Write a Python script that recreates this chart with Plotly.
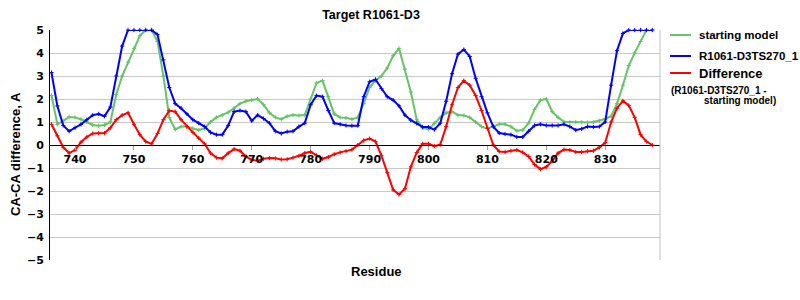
import plotly.graph_objects as go

residues = list(range(736, 839))

starting_model = [
    2.15, 0.9, 1.05, 1.22, 1.2, 1.12, 1.0, 0.87, 0.84, 0.87,
    1.0, 2.2, 3.0, 3.6, 4.2, 4.75, 5.0, 5.0, 4.5, 3.0,
    1.2, 0.68, 0.8, 0.8, 0.72, 0.65, 0.72,
    1.0, 1.2, 1.3, 1.42, 1.6, 1.8, 1.9, 1.95, 2.0, 1.75,
    1.4, 1.2, 1.12, 1.25, 1.3, 1.28, 1.3, 2.0, 2.7, 2.8,
    2.1, 1.35, 1.2, 1.18, 1.12, 1.2,
    1.8, 2.5, 2.8, 3.0, 3.35, 3.88, 4.2, 3.3, 2.3, 1.1,
    0.75, 0.68, 0.95, 1.2, 1.4, 1.45, 1.3, 1.28, 1.2, 1.0,
    0.8, 0.72, 0.8, 0.9, 0.9, 0.8,
    0.62, 0.65, 0.95, 1.55, 1.95, 2.0, 1.45, 1.2, 1.01, 1.0,
    1.0, 1.0, 0.98, 1.0, 1.05, 1.13, 1.25, 1.8, 2.6, 3.45,
    4.0, 4.5, 5.0, 5.0,
]

model_ts270 = [
    3.15, 1.7, 0.85, 0.6, 0.75, 0.9, 1.1, 1.3, 1.35, 1.25,
    1.65, 3.0, 4.3, 5.0, 5.0, 5.0, 5.0, 5.0, 4.8, 3.7,
    2.5, 1.8, 1.6, 1.35, 1.1, 0.95, 0.8,
    0.55, 0.45, 0.45, 0.85, 1.45, 1.5, 1.45, 1.05, 1.3, 1.15,
    0.95, 0.6, 0.5, 0.58, 0.6, 0.8, 0.95, 1.75, 2.15, 2.1,
    1.5, 0.95, 0.9, 0.85, 0.84, 0.84,
    2.1, 2.75, 2.85, 2.45, 2.1, 1.95, 1.7, 1.3, 1.08, 0.94,
    0.78, 0.78, 0.67, 0.95, 1.9, 3.1, 3.95, 4.15, 3.85, 2.9,
    2.1, 1.4, 0.8, 0.52, 0.48, 0.45,
    0.35, 0.35, 0.6, 0.85, 0.9, 0.85, 0.85, 0.85, 0.9, 0.8,
    0.65, 0.7, 0.8, 0.78, 0.8, 1.0, 2.6, 4.1, 4.85, 5.0,
    5.0, 5.0, 5.0, 5.0,
]

difference = [
    0.9, 0.4, -0.1, -0.35, -0.22, 0.12, 0.35, 0.5, 0.52, 0.52,
    0.75, 1.1, 1.3, 1.4, 0.9, 0.45, 0.15, 0.05, 0.5, 1.1,
    1.5, 1.45, 1.1, 0.8, 0.55, 0.3, 0.05,
    -0.35, -0.55, -0.58, -0.35, -0.18, -0.25, -0.5, -0.65, -0.68, -0.6,
    -0.57, -0.58, -0.63, -0.62, -0.55, -0.47, -0.35, -0.3, -0.45, -0.6,
    -0.52, -0.4, -0.32, -0.27, -0.2, 0.0,
    0.2, 0.28, 0.15, -0.45, -1.2, -1.95, -2.15, -1.9, -0.95, -0.33,
    0.05, 0.05, -0.05, 0.02, 0.8, 1.75, 2.5, 2.8, 2.6, 2.15,
    1.5, 0.72, 0.0, -0.28, -0.3, -0.25,
    -0.22, -0.32, -0.5, -0.85, -1.05, -0.95, -0.7, -0.35, -0.2, -0.22,
    -0.3, -0.3, -0.27, -0.25, -0.1, 0.1, 1.0, 1.6, 1.92, 1.72,
    1.2, 0.45, 0.15, 0.0,
]

x_ticks = [740, 750, 760, 770, 780, 790, 800, 810, 820, 830]
y_ticks = [-5, -4, -3, -2, -1, 0, 1, 2, 3, 4, 5]

series = [
    ("starting model", starting_model, "#66c466"),
    ("R1061-D3TS270_1", model_ts270, "#0000ff"),
    ("Difference", difference, "#ff0000"),
]

fig = go.Figure()
for name, vals, color in series:
    fig.add_trace(go.Scatter(
        x=residues, y=vals, name=name, mode="lines+markers",
        line=dict(color=color, width=2),
        marker=dict(symbol="cross-thin", size=3, line=dict(color=color, width=1), color=color),
        cliponaxis=False, showlegend=False,
    ))

tick_font = dict(family="DejaVu Sans", size=11, color="black", weight="bold")
bold = dict(family="Liberation Sans", color="black", weight="bold")

fig.update_layout(
    width=800, height=300,
    margin=dict(l=50, r=140, t=30, b=40),
    paper_bgcolor="white", plot_bgcolor="white",
    title=dict(text="Target R1061-D3", x=371 / 800, xref="container", xanchor="center",
               y=1 - 15 / 300, yref="container", yanchor="middle",
               font=dict(size=12.5, **bold)),
    xaxis=dict(range=[735.75, 839.3], tickvals=x_ticks, showgrid=False, zeroline=False,
               anchor="free", position=0.5, showline=True, linecolor="black", linewidth=1,
               ticks="outside", ticklen=4, tickcolor="#a0a0a0", tickfont=tick_font),
    yaxis=dict(range=[-5, 5], tickvals=y_ticks, showgrid=True, gridcolor="#c8c8c8",
               zeroline=True, zerolinecolor="black", zerolinewidth=1,
               showline=True, linecolor="black", linewidth=1,
               ticks="outside", ticklen=3, tickcolor="rgba(0,0,0,0)", tickfont=tick_font),
)

# right frame border
fig.add_shape(type="line", xref="paper", yref="paper", x0=1, x1=1, y0=0, y1=1,
              line=dict(color="#c0c0c0", width=1))

# axis titles
fig.add_annotation(text="Residue", xref="paper", yref="paper", x=(376 - 50) / 610, y=(260 - 271) / 230,
                   showarrow=False, xanchor="center", yanchor="middle", font=dict(size=13, **bold))
fig.add_annotation(text="CA-CA difference, A", xref="paper", yref="paper", x=(15 - 50) / 610,
                   y=(260 - 154) / 230, textangle=-90, showarrow=False,
                   xanchor="center", yanchor="middle", font=dict(size=13, **bold))

# legend (drawn manually)
def px_x(p):
    return (p - 50) / 610

def px_y(p):
    return (260 - p) / 230

legend_rows = [("starting model", "#66c466", 35, 11.5), ("R1061-D3TS270_1", "#0000ff", 56, 11.5),
               ("Difference", "#ff0000", 73, 13)]
for label, color, ypix, fs in legend_rows:
    fig.add_shape(type="line", xref="paper", yref="paper", x0=px_x(670), x1=px_x(691),
                  y0=px_y(ypix), y1=px_y(ypix), line=dict(color=color, width=2))
    fig.add_annotation(text=label, xref="paper", yref="paper", x=px_x(697), y=px_y(ypix),
                       showarrow=False, xanchor="left", yanchor="middle", font=dict(size=fs, **bold))
fig.add_annotation(text="(R1061-D3TS270_1 -", xref="paper", yref="paper", x=px_x(669), y=px_y(90),
                   showarrow=False, xanchor="left", yanchor="middle", font=dict(size=10, **bold))
fig.add_annotation(text="starting model)", xref="paper", yref="paper", x=px_x(702), y=px_y(100),
                   showarrow=False, xanchor="left", yanchor="middle", font=dict(size=10, **bold))

fig.write_html("out.html")
